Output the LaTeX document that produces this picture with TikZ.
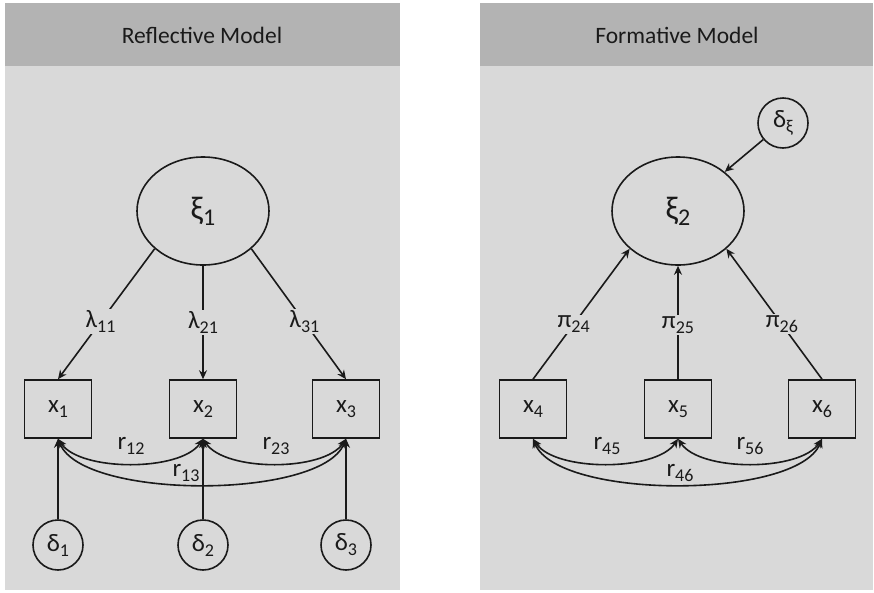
\documentclass[tikz,border=0pt]{standalone}
\usepackage{fontspec}
\setmainfont{Carlito}
\usetikzlibrary{arrows.meta,shapes.geometric}
\definecolor{hdr}{HTML}{B3B3B3}
\definecolor{bod}{HTML}{D9D9D9}
\definecolor{ink}{HTML}{1A1A1A}
\newcommand\lb[2]{#1\raisebox{-5pt}{\fontsize{18}{18}\selectfont #2}}
\newcommand\lbig[2]{{\fontsize{33}{33}\selectfont #1\raisebox{-6pt}{\fontsize{24}{24}\selectfont #2}}}
\begin{document}
\begin{tikzpicture}[x=1pt,y=-1pt,
  lat/.style={draw=ink,ellipse,minimum width=132pt,minimum height=108pt,line width=1.6pt,inner sep=0pt,text=ink},
  obs/.style={draw=ink,rectangle,minimum width=67pt,minimum height=58pt,line width=1.6pt,inner sep=0pt,text=ink,font=\fontsize{25}{25}\selectfont},
  err/.style={draw=ink,circle,minimum size=50pt,line width=1.6pt,inner sep=0pt,text=ink,font=\fontsize{25}{25}\selectfont},
  lab/.style={fill=bod,inner sep=1.5pt,text=ink,font=\fontsize{25}{25}\selectfont},
  rlab/.style={inner sep=0pt,text=ink,font=\fontsize{25}{25}\selectfont},
  arr/.style={draw=ink,line width=1.6pt,-{Stealth[length=9pt,width=8pt]}},
  dbl/.style={draw=ink,line width=1.6pt,{Stealth[length=9pt,width=8pt]}-{Stealth[length=9pt,width=8pt]}},
  ttl/.style={text=ink,font=\fontsize{23.5}{23.5}\selectfont}
]
\useasboundingbox[fill=white] (0,0) rectangle (874,592);
% panels
\fill[bod] (5,3) rectangle (400,590);
\fill[hdr] (5,3) rectangle (400,66);
\node[ttl] (t1) at (202,35) {Reflective Model};
\fill[bod] (480,3) rectangle (873,590);
\fill[hdr] (480,3) rectangle (873,66);
\node[ttl] (t2) at (677,35) {Formative Model};

% reflective
\node[lat] (xi1) at (203,211) {\lbig{ξ}{1}};
\node[obs] (x1) at (58,409) {\lb{x}{1}};
\node[obs] (x2) at (203,409) {\lb{x}{2}};
\node[obs] (x3) at (346,409) {\lb{x}{3}};
\node[err] (d1) at (58,545) {\lb{δ}{1}};
\node[err] (d2) at (203,545) {\lb{δ}{2}};
\node[err] (d3) at (346,545) {\lb{δ}{3}};

\draw[arr] (xi1.218) -- node[lab,pos=0.56] {\lb{λ}{11}} (x1.north);
\draw[arr] (xi1) -- node[lab,pos=0.5] {\lb{λ}{21}} (x2);
\draw[arr] (xi1.322) -- node[lab,pos=0.56] {\lb{λ}{31}} (x3.north);
\draw[arr] (d1) -- (x1);
\draw[arr] (d2) -- (x2);
\draw[arr] (d3) -- (x3);

\draw[dbl] (x1.south) .. controls +(22,33) and +(-22,33) .. (x2.south);
\draw[dbl] (x2.south) .. controls +(22,33) and +(-22,33) .. (x3.south);
\draw[dbl] (x1.south) .. controls +(25,61) and +(-25,61) .. (x3.south);
\node[rlab] (r12) at (131,446) {\lb{r}{12}};
\node[rlab] (r23) at (276,446) {\lb{r}{23}};
\node[rlab] (r13) at (186,473) {\lb{r}{13}};

% formative
\node[lat] (xi2) at (678,211) {\lbig{ξ}{2}};
\node[err] (dxi) at (783,123) {\lb{δ}{ξ}};
\node[obs] (x4) at (533,409) {\lb{x}{4}};
\node[obs] (x5) at (678,409) {\lb{x}{5}};
\node[obs] (x6) at (822,409) {\lb{x}{6}};

\draw[arr] (dxi) -- (xi2);
\draw[arr] (x4.north) -- node[lab,pos=0.42] {\lb{π}{24}} (xi2.218);
\draw[arr] (x5) -- node[lab,pos=0.48] {\lb{π}{25}} (xi2);
\draw[arr] (x6.north) -- node[lab,pos=0.42] {\lb{π}{26}} (xi2.322);

\draw[dbl] (x4.south) .. controls +(22,33) and +(-22,33) .. (x5.south);
\draw[dbl] (x5.south) .. controls +(22,33) and +(-22,33) .. (x6.south);
\draw[dbl] (x4.south) .. controls +(25,61) and +(-25,61) .. (x6.south);
\node[rlab] (r45) at (607,446) {\lb{r}{45}};
\node[rlab] (r56) at (750,446) {\lb{r}{56}};
\node[rlab] (r46) at (680,473) {\lb{r}{46}};
\end{tikzpicture}
\end{document}
